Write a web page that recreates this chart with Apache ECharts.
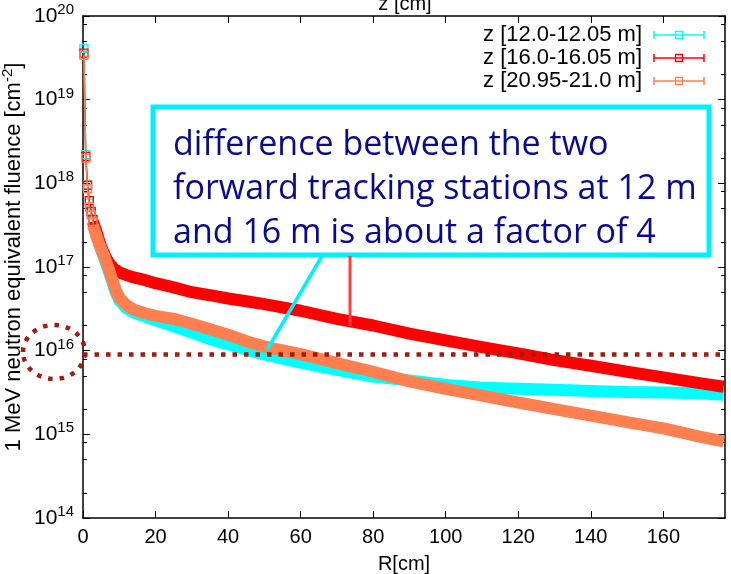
<!DOCTYPE html>
<html>
<head>
<meta charset="utf-8">
<script src="https://cdn.jsdelivr.net/npm/echarts@6/dist/echarts.min.js"></script>
<style>
  html, body { margin: 0; padding: 0; background: #fff; }
  #main { width: 731px; height: 574px; }
</style>
</head>
<body>
<div id="main"></div>
<script>
// R bins (cm)
const radius = [0.25, 0.75, 1.25, 1.75, 2.25, 2.75, 3.25, 3.75, 4.25, 5, 6, 7, 8, 9, 10, 12, 14, 17, 20, 25,
  30, 35, 40, 45, 50, 60, 70, 80, 90, 100, 110, 120, 130, 140, 150, 160, 170, 175];

// 1 MeV neq fluence (cm^-2) for each z slice
const fluence12 = [4.1e19, 2.2e18, 9.5e17, 5.8e17, 4.4e17, 3.6e17, 2.8e17, 2.3e17, 2.0e17, 1.6e17, 1.22e17, 9.2e16,
  6.8e16, 5.0e16, 4.0e16, 3.2e16, 2.85e16, 2.55e16, 2.3e16, 1.95e16, 1.65e16, 1.37e16, 1.19e16, 1.03e16, 9.0e15,
  7.2e15, 5.9e15, 4.9e15, 4.4e15, 3.9e15, 3.6e15, 3.5e15, 3.4e15, 3.3e15, 3.2e15, 3.17e15, 3.1e15, 3.0e15];
const fluence16 = [3.6e19, 2.1e18, 9.5e17, 6.2e17, 4.6e17, 3.7e17, 3.0e17, 2.6e17, 2.2e17, 1.75e17, 1.38e17, 1.14e17,
  1.0e17, 9.2e16, 8.6e16, 8.0e16, 7.5e16, 7.0e16, 6.4e16, 5.7e16, 5.0e16, 4.6e16, 4.2e16, 3.9e16, 3.6e16,
  3.0e16, 2.4e16, 2.0e16, 1.6e16, 1.33e16, 1.1e16, 9.3e15, 7.7e15, 6.6e15, 5.6e15, 4.8e15, 4.1e15, 3.8e15];
const fluence21 = [3.4e19, 2.0e18, 8.6e17, 5.2e17, 4.2e17, 3.5e17, 2.7e17, 2.3e17, 2.0e17, 1.65e17, 1.28e17, 9.8e16,
  7.2e16, 5.3e16, 4.3e16, 3.5e16, 3.1e16, 2.8e16, 2.6e16, 2.4e16, 2.1e16, 1.8e16, 1.55e16, 1.3e16, 1.12e16,
  9.1e15, 7.1e15, 5.6e15, 4.3e15, 3.5e15, 2.9e15, 2.4e15, 2.0e15, 1.67e15, 1.4e15, 1.18e15, 9.4e14, 8.5e14];

const seriesNames = ['z [12.0-12.05 m]', 'z [16.0-16.05 m]', 'z [20.95-21.0 m]'];
const seriesColors = ['#00ffff', '#ff0000', '#ff7f50'];
const allFluence = [fluence12, fluence16, fluence21];

const xMax = 177;
const yDecades = [14, 15, 16, 17, 18, 19, 20];
const minorFactors = [2, 5, 8];
const limitLine = 9.0e15; // the dotted ~1e16 line
const noteLines = ['difference between the two', 'forward tracking stations at 12 m', 'and 16 m is about a factor of 4'];

const FONT = 'Liberation Sans, Arial, sans-serif';

// minor ticks, as exponents, for a plain value axis laid over the log one
const minorExp = [];
yDecades.slice(0, -1).forEach(d => {
  minorFactors.forEach(f => minorExp.push(d + Math.log10(f)));
});

const series = [];
allFluence.forEach((vals, i) => {
  const pts = radius.map((r, k) => [r, vals[k]]);
  // thick band where the markers pile up
  series.push({
    name: seriesNames[i] + ' band',
    type: 'line',
    data: pts.filter(p => p[0] >= 3),
    showSymbol: false,
    silent: true,
    lineStyle: { color: seriesColors[i], width: 12, cap: 'square' },
    z: 2 + i * 2
  });
  // thin line + hollow squares
  series.push({
    name: seriesNames[i],
    type: 'line',
    data: pts,
    symbol: 'rect',
    symbolSize: v => (v[0] < 12 ? 8 : 0),
    itemStyle: { color: 'rgba(255,255,255,0)', borderColor: seriesColors[i], borderWidth: 1.4 },
    lineStyle: { color: seriesColors[i], width: 1.5 },
    silent: true,
    z: 3 + i * 2
  });
});

series[series.length - 1].markLine = {
  silent: true,
  symbol: 'none',
  label: { show: false },
  lineStyle: { color: '#a01c0c', width: 4.5, type: [4.5, 7], cap: 'butt' },
  data: [{ yAxis: limitLine }],
  z: 20
};

const axisLine = { show: true, lineStyle: { color: '#000', width: 1.5 } };

const xBase = { type: 'value', min: 0, max: xMax, interval: 20, splitLine: { show: false }, axisLine: axisLine };
const yBase = { type: 'log', logBase: 10, min: 1e14, max: 1e20, interval: 1, splitNumber: 6, splitLine: { show: false } };
const yMinor = {
  type: 'value', min: 14, max: 20, splitLine: { show: false },
  axisLine: { show: false }, axisLabel: { show: false },
  axisTick: { inside: true, length: 4, customValues: minorExp, lineStyle: { color: '#000' } }
};

const option = {
  animation: false,
  backgroundColor: '#fff',
  grid: { left: 83, right: 6, top: 16, bottom: 56, outerBoundsMode: 'none', containLabel: false },
  xAxis: [
    Object.assign({}, xBase, {
      position: 'bottom',
      axisTick: { inside: true, length: 7, lineStyle: { color: '#000' } },
      axisLabel: { fontSize: 20, color: '#000', fontFamily: FONT, margin: 9, showMaxLabel: false },
      name: 'R[cm]', nameLocation: 'middle', nameGap: 36,
      nameTextStyle: { fontSize: 20, color: '#000', fontFamily: FONT }
    }),
    Object.assign({}, xBase, {
      position: 'top',
      axisTick: { inside: true, length: 7, lineStyle: { color: '#000' } },
      axisLabel: { show: false }
    })
  ],
  yAxis: [
    Object.assign({}, yBase, {
      position: 'left',
      axisLine: axisLine,
      axisTick: { inside: true, length: 7, lineStyle: { color: '#000' } },
      axisLabel: {
        color: '#000', fontFamily: FONT, fontSize: 21, margin: 9,
        formatter: v => '10{s|' + Math.round(Math.log10(v)) + '}',
        rich: { s: { fontSize: 15, fontFamily: FONT, color: '#000', padding: [0, 0, 12, 0] } }
      },
      name: '1 MeV neutron equivalent fluence [cm{s|-2}]',
      nameLocation: 'middle', nameGap: 55, nameRotate: 90, nameMoveOverlap: false,
      nameTextStyle: {
        fontSize: 22, color: '#000', fontFamily: FONT, padding: [0, 0, 0, 20],
        rich: { s: { fontSize: 15, fontFamily: FONT, color: '#000', padding: [0, 0, 13, 0] } }
      }
    }),
    Object.assign({}, yMinor, { position: 'left' }),
    Object.assign({}, yBase, {
      position: 'right',
      axisLine: axisLine,
      axisTick: { inside: true, length: 7, lineStyle: { color: '#000' } },
      axisLabel: { show: false }
    }),
    Object.assign({}, yMinor, { position: 'right' })
  ],
  series: series
};

// legend drawn by hand: text on the left, gnuplot style sample on the right
const legendItems = [];
seriesNames.forEach((name, i) => {
  const y = 35 + i * 23;
  const c = seriesColors[i];
  legendItems.push(
    { type: 'text', x: 642, y: y, style: { text: name, fill: '#000', font: '22px ' + FONT, textAlign: 'right', textVerticalAlign: 'middle' } },
    { type: 'line', shape: { x1: 654, y1: y, x2: 704, y2: y }, style: { stroke: c, lineWidth: 1.5 } },
    { type: 'line', shape: { x1: 654, y1: y - 4, x2: 654, y2: y + 4 }, style: { stroke: c, lineWidth: 1.5 } },
    { type: 'line', shape: { x1: 704, y1: y - 4, x2: 704, y2: y + 4 }, style: { stroke: c, lineWidth: 1.5 } },
    { type: 'rect', shape: { x: 675.5, y: y - 3.5, width: 7, height: 7 }, style: { fill: 'none', stroke: c, lineWidth: 1.3 } }
  );
});

const noteItems = noteLines.map((t, i) => ({
  type: 'text', x: 173, y: 145 + i * 44, z: 101,
  style: { text: t, fill: '#0a0a8c', font: '34px "Open Sans", "Noto Sans", sans-serif', textVerticalAlign: 'middle' }
}));

option.graphic = [
  { type: 'text', x: 405, y: 4, style: { text: 'z [cm]', fill: '#000', font: '20px ' + FONT, textAlign: 'center', textVerticalAlign: 'middle' } },
  ...legendItems,
  // callout box
  { type: 'rect', z: 100, shape: { x: 153, y: 107, width: 556, height: 148 }, style: { fill: '#fff', stroke: '#00f0ff', lineWidth: 5 } },
  ...noteItems,
  { type: 'line', z: 100, shape: { x1: 322, y1: 256, x2: 267, y2: 350 }, style: { stroke: '#00f0ff', lineWidth: 3.5 } },
  { type: 'line', z: 100, shape: { x1: 350, y1: 256, x2: 350, y2: 326 }, style: { stroke: '#ff4040', lineWidth: 3 } },
  // dotted ring round the 10^16 label
  { type: 'ellipse', z: 100, shape: { cx: 54, cy: 352, rx: 31, ry: 27 }, style: { fill: 'none', stroke: '#a01c0c', lineWidth: 4.5, lineDash: [4.5, 7] } }
];

const chart = echarts.init(document.getElementById('main'));
chart.setOption(option);
</script>
</body>
</html>
